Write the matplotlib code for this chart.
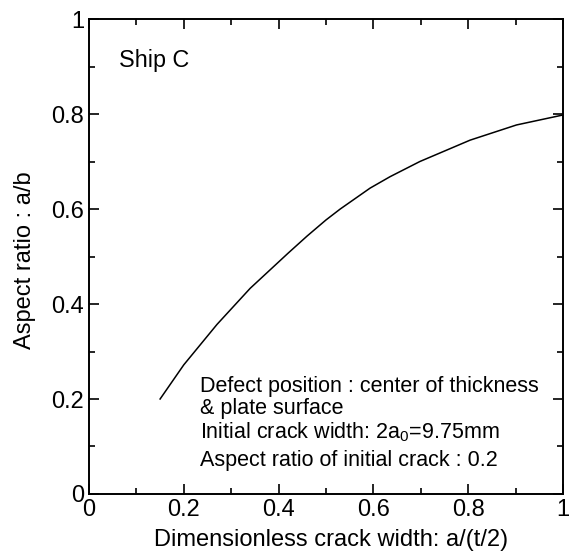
import matplotlib
matplotlib.use("Agg")
import matplotlib.pyplot as plt
from matplotlib.ticker import MultipleLocator

plt.rcParams['font.family'] = ['Liberation Sans', 'DejaVu Sans']
plt.rcParams['mathtext.fontset'] = 'custom'
plt.rcParams['mathtext.rm'] = 'Liberation Sans'
plt.rcParams['mathtext.it'] = 'Liberation Sans'
plt.rcParams['mathtext.default'] = 'regular'

# Data
crack_width = [0.15, 0.20, 0.27, 0.34, 0.42, 0.46, 0.50, 0.53, 0.593, 0.635, 0.698, 0.804, 0.902, 1.0]
aspect_ratio = [0.20, 0.272, 0.357, 0.433, 0.507, 0.543, 0.577, 0.600, 0.644, 0.668, 0.700, 0.745, 0.777, 0.798]

ticks = [0, 0.2, 0.4, 0.6, 0.8, 1.0]
tick_labels = ["0", "0.2", "0.4", "0.6", "0.8", "1"]

fig = plt.figure(figsize=(5.72, 5.53), dpi=100)
ax = fig.add_axes([0.1556, 0.1067, 0.8287, 0.8589])

ax.plot(crack_width, aspect_ratio, color='black', lw=1.1)

ax.set_xlim(0, 1)
ax.set_ylim(0, 1)
ax.set_xticks(ticks)
ax.set_xticklabels(tick_labels)
ax.set_yticks(ticks)
ax.set_yticklabels(tick_labels)
ax.xaxis.set_minor_locator(MultipleLocator(0.1))
ax.yaxis.set_minor_locator(MultipleLocator(0.1))
ax.tick_params(which='both', direction='in', top=True, right=True, width=1.2)
ax.tick_params(which='major', length=7, labelsize=17, pad=3.5)
ax.tick_params(which='minor', length=4)
for s in ax.spines.values():
    s.set_linewidth(1.4)

ax.set_xlabel("Dimensionless crack width: a/(t/2)", fontsize=17)
ax.set_ylabel("Aspect ratio : a/b", fontsize=17)
ax.xaxis.set_label_coords(0.511, -0.074)
ax.yaxis.set_label_coords(-0.112, 0.493)

ax.text(0.063, 0.899, "Ship C", transform=ax.transAxes, fontsize=16.8, va='baseline')

fs = 15.5
x0 = 0.234
ax.text(x0, 0.2147, "Defect position : center of thickness", transform=ax.transAxes, fontsize=fs, va='baseline')
ax.text(x0, 0.168, "& plate surface", transform=ax.transAxes, fontsize=fs, va='baseline')
ax.text(x0, 0.118, r"Initial crack width: 2a$_0$=9.75mm", transform=ax.transAxes, fontsize=fs, va='baseline')
ax.text(x0, 0.059, "Aspect ratio of initial crack : 0.2", transform=ax.transAxes, fontsize=fs, va='baseline')

fig.savefig("out.png", dpi=100)
